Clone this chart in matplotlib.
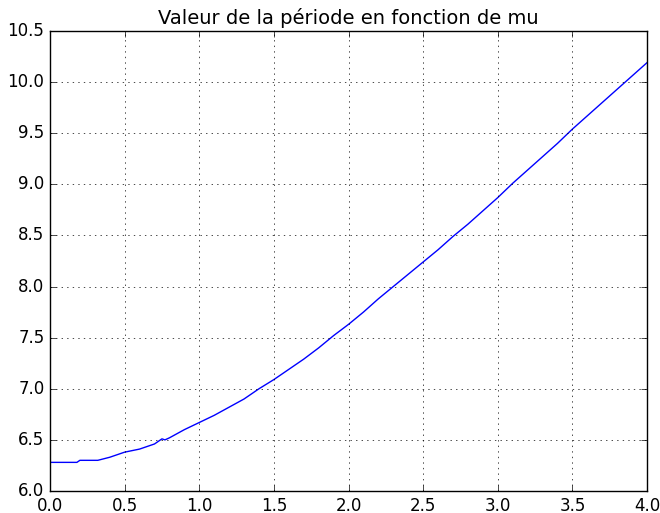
import matplotlib
matplotlib.use('Agg')
import matplotlib.pyplot as plt
import numpy as np

# valeurs (mu, periode)
mu = [0.0, 0.1, 0.18, 0.2, 0.3, 0.32, 0.4, 0.5, 0.6, 0.7, 0.75, 0.77, 0.8, 0.9,
      1.0, 1.1, 1.2, 1.3, 1.4, 1.5, 1.6, 1.7, 1.8, 1.9,
      2.0, 2.1, 2.2, 2.3, 2.4, 2.5, 2.6, 2.7, 2.8, 2.9,
      3.0, 3.1, 3.2, 3.3, 3.4, 3.5, 3.6, 3.7, 3.8, 3.9, 4.0]
periode = [6.28, 6.28, 6.28, 6.30, 6.30, 6.30, 6.33, 6.38, 6.41, 6.46, 6.51, 6.50, 6.52, 6.60,
           6.67, 6.74, 6.82, 6.90, 7.00, 7.09, 7.19, 7.29, 7.40, 7.52,
           7.63, 7.75, 7.88, 8.00, 8.12, 8.24, 8.36, 8.49, 8.61, 8.74,
           8.87, 9.01, 9.14, 9.27, 9.40, 9.54, 9.67, 9.80, 9.93, 10.06, 10.19]

plt.style.use('classic')
fig = plt.figure(figsize=(6.6, 5.13), dpi=100, facecolor='white')
ax = fig.add_axes([0.0758, 0.0429, 0.9045, 0.8967])
ax.plot(mu, periode, 'b-', linewidth=1)
ax.set_title('Valeur de la période en fonction de mu', fontsize=14)
ax.set_xlim(0, 4)
ax.set_ylim(6.0, 10.5)
ax.set_xticks(np.arange(0, 4.01, 0.5))
ax.set_yticks(np.arange(6.0, 10.51, 0.5))
ax.grid(True)
plt.savefig('out.png', facecolor='white')
